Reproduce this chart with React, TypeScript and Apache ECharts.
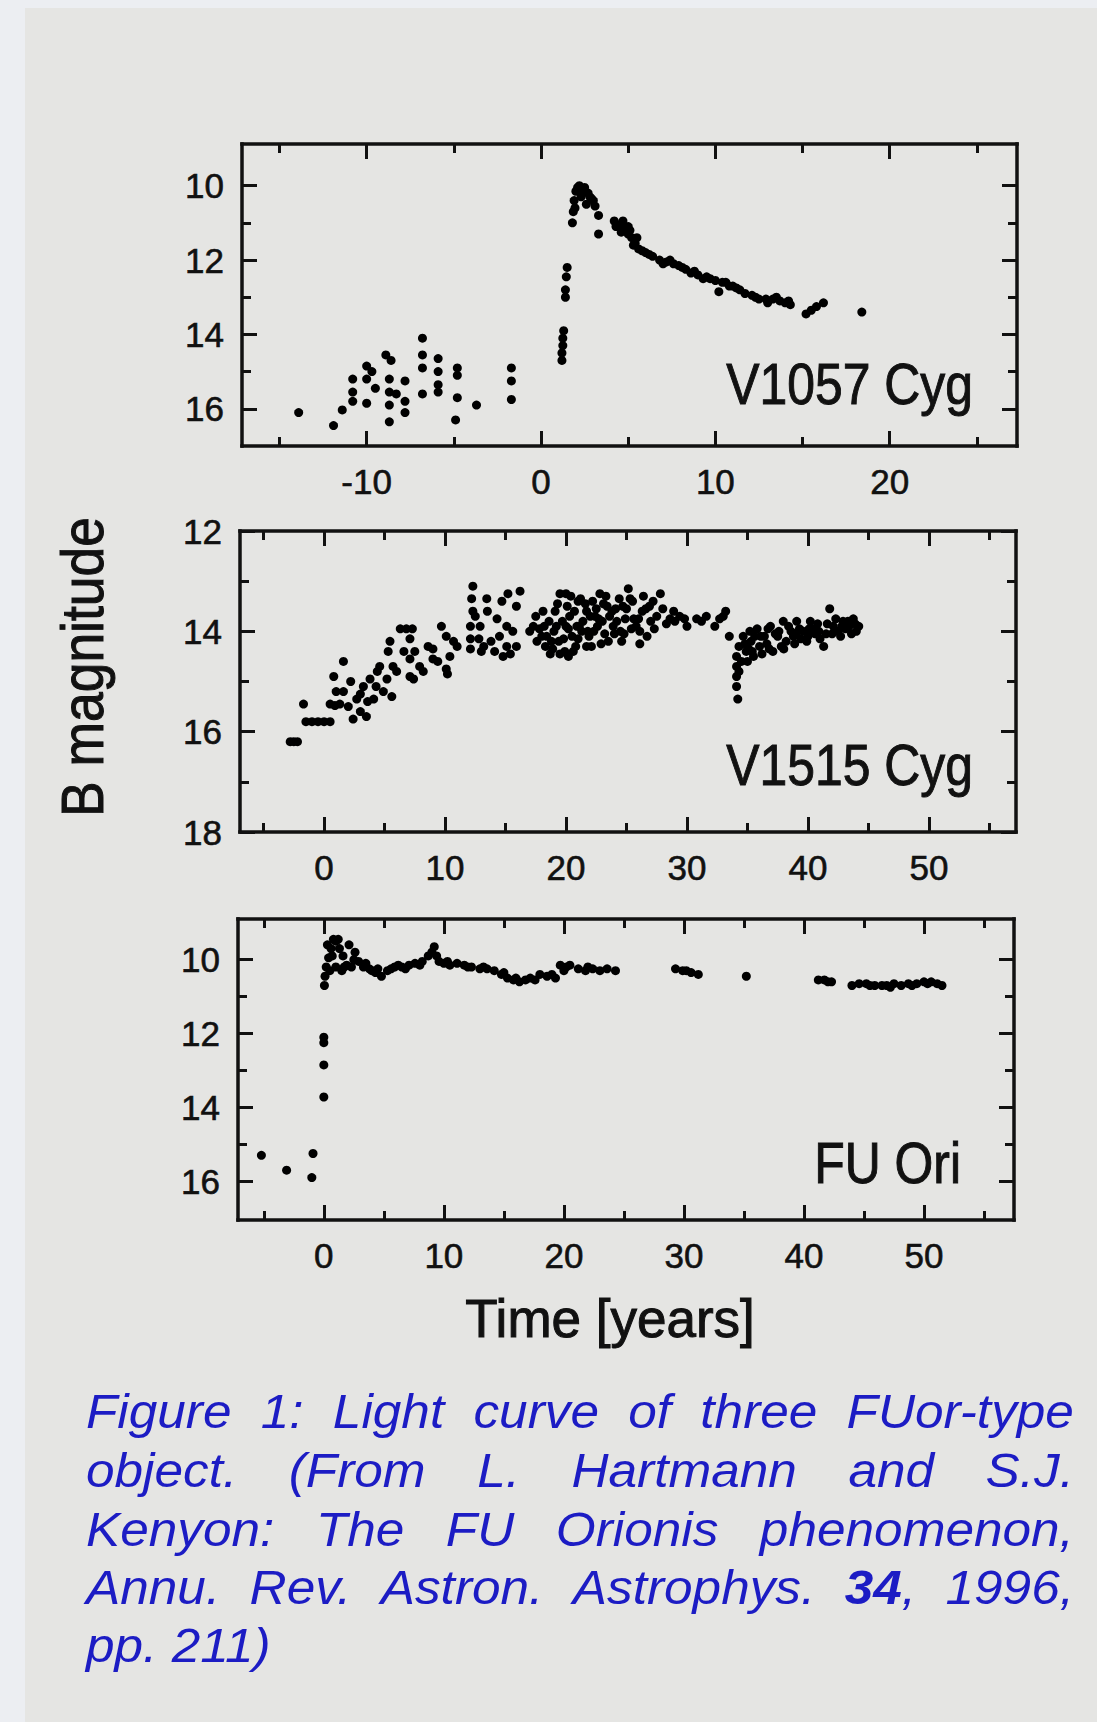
import React, { useEffect, useRef } from 'react';
import * as echarts from 'echarts';

const W = 1097;
const H = 1722;
const FONT = "'Liberation Sans', Arial, Helvetica, sans-serif";
const INK = '#111111';
const DOT = '#000000';
const BLUE = '#1c1cc4';

// ---- data: [time (years), B magnitude] ----
const v1057Cyg: [number, number][] = [
  [-13.9, 16.1], [-11.9, 16.45], [-11.4, 16.03], [-10.8, 15.2], [-10.8, 15.55], [-10.8, 15.8],
  [-10.0, 14.85], [-10.0, 15.2], [-10.0, 15.85], [-9.7, 15.0], [-9.5, 15.45], [-8.9, 14.55],
  [-8.6, 14.7], [-8.7, 15.2], [-8.7, 15.55], [-8.7, 15.9], [-8.7, 16.35], [-8.3, 15.6],
  [-7.8, 15.25], [-7.8, 15.8], [-7.8, 16.1], [-6.8, 14.1], [-6.8, 14.55], [-6.8, 14.9],
  [-6.8, 15.6], [-5.9, 14.65], [-5.9, 15.0], [-5.9, 15.35], [-5.9, 15.55], [-4.8, 14.9],
  [-4.8, 15.1], [-4.8, 15.7], [-4.9, 16.3], [-3.7, 15.9], [-1.7, 14.9], [-1.7, 15.25], [-1.7, 15.75],
  [1.2, 14.7], [1.2, 14.5], [1.25, 14.3], [1.25, 14.1], [1.3, 13.9], [1.4, 13.0], [1.4, 12.8],
  [1.45, 12.45], [1.5, 12.2],
  [1.8, 11.0], [1.85, 10.7], [1.9, 10.4], [2.0, 10.15], [2.2, 10.0], [2.5, 10.05], [2.7, 10.2],
  [2.9, 10.35], [3.1, 10.55], [3.3, 10.8], [3.3, 11.3], [2.3, 10.3], [2.6, 10.5],
  [2.1, 10.05], [2.4, 10.15], [1.95, 10.6], [2.8, 10.3], [3.0, 10.4],
  [4.2, 10.95], [4.5, 11.05], [4.8, 11.15], [5.0, 11.3], [5.2, 11.4], [5.4, 11.55], [5.6, 11.7],
  [5.0, 11.1], [4.6, 11.25], [4.3, 11.1], [4.7, 10.95], [5.1, 11.2], [5.3, 11.6], [5.5, 11.4],
  [5.8, 11.75], [6.0, 11.8], [6.2, 11.85], [6.4, 11.9], [6.8, 12.0], [7.0, 12.1], [7.2, 12.05],
  [7.4, 12.0], [7.6, 12.1], [7.9, 12.15], [8.1, 12.2], [8.3, 12.25], [8.6, 12.35], [8.8, 12.3],
  [9.0, 12.4], [9.3, 12.5], [9.5, 12.45], [9.7, 12.5], [10.0, 12.55], [10.2, 12.85], [10.4, 12.6],
  [10.6, 12.6], [10.8, 12.7], [11.0, 12.7], [11.2, 12.75], [11.4, 12.8], [11.7, 12.9], [12.1, 12.95],
  [12.3, 13.0], [12.5, 13.05], [12.9, 13.05], [13.0, 13.15], [13.3, 13.05], [13.5, 13.0],
  [13.7, 13.1], [14.0, 13.15], [14.2, 13.1], [14.3, 13.2],
  [15.2, 13.45], [15.5, 13.35], [15.8, 13.25], [16.2, 13.15], [18.4, 13.4],
];

const v1515Cyg: [number, number][] = [
  [-2.8, 16.2], [-2.5, 16.2], [-2.2, 16.2], [-1.7, 15.45], [-1.5, 15.8], [-1.0, 15.8], [-0.5, 15.8],
  [0.0, 15.8], [0.5, 15.8], [0.5, 15.45], [0.9, 15.48], [1.3, 15.45], [0.8, 14.9], [1.6, 14.6],
  [1.6, 15.2], [2.4, 15.75], [3.0, 15.6], [3.5, 15.7], [2.7, 15.35], [3.25, 15.1], [3.8, 14.95],
  [4.1, 15.35], [4.4, 14.8], [4.6, 14.7], [4.9, 15.2], [5.2, 14.95], [5.3, 14.4], [5.45, 14.2],
  [5.7, 14.7], [5.6, 15.3], [6.0, 14.8], [6.3, 13.95], [6.8, 13.95], [7.3, 13.95], [7.1, 14.15],
  [7.1, 14.55], [7.1, 14.9], [7.5, 14.4], [7.9, 14.7], [8.2, 14.8], [7.4, 14.95], [9.0, 14.35],
  [9.0, 14.55], [9.7, 13.9], [10.1, 14.1], [10.7, 14.2], [10.4, 14.5], [10.1, 14.75], [10.2, 14.85],
  [1.0, 15.2], [2.0, 15.5], [2.2, 15.0], [3.0, 15.25], [3.6, 15.4], [4.3, 15.1], [6.6, 14.4],
  [8.6, 14.3], [9.4, 14.6], [11.0, 14.3],
  [12.3, 13.1], [12.2, 13.35], [12.3, 13.6], [12.1, 13.9], [12.1, 14.15], [12.1, 14.35],
  [12.9, 13.9], [12.8, 14.15], [13.45, 13.35], [13.5, 13.6], [12.5, 13.7], [13.8, 14.2],
  [15.2, 13.25], [15.9, 13.5], [14.3, 13.75], [14.5, 14.1], [14.1, 14.4], [15.1, 13.9],
  [15.6, 14.0], [15.9, 14.3], [15.1, 14.3], [14.8, 14.5], [13.2, 14.3], [13.0, 14.4],
  [14.7, 13.4], [16.2, 13.2], [15.4, 14.45],
  [17.3, 13.9], [17.8, 13.95], [18.4, 14.1], [18.9, 14.35], [19.5, 13.25], [20.1, 13.5],
  [19.2, 13.9], [19.8, 14.15], [20.6, 14.4], [20.9, 13.9], [21.2, 13.35], [21.7, 13.6],
  [22.3, 14.0], [22.8, 13.25], [23.4, 13.5], [23.9, 13.9], [24.7, 13.5], [25.15, 13.15],
  [25.6, 13.75], [21.7, 14.3], [19.5, 14.45], [18.0, 14.1], [18.6, 13.8], [19.0, 14.0],
  [20.3, 13.7], [20.5, 14.1], [21.0, 14.15], [21.4, 13.8], [22.0, 13.7], [22.5, 13.55],
  [23.0, 13.8], [23.6, 13.7], [24.2, 13.8], [24.4, 13.35], [25.0, 13.55], [26.1, 14.0],
  [26.9, 13.5], [27.8, 13.25], [27.5, 13.7], [28.6, 13.75], [29.4, 13.7], [30.0, 13.9],
  [30.8, 13.75], [31.6, 13.7], [32.3, 13.9], [33.0, 13.7], [33.2, 13.6], [26.4, 13.3],
  [27.0, 13.8], [28.0, 13.55], [26.1, 14.25], [25.4, 13.95], [24.0, 14.05], [22.6, 13.9],
  [20.0, 13.25], [21.0, 13.4], [19.3, 13.45], [33.5, 14.1],
  [17.0, 14.0], [17.6, 14.2], [18.2, 13.9], [18.8, 14.2], [19.1, 13.6], [19.7, 13.8],
  [20.2, 13.95], [20.4, 13.3], [20.8, 14.3], [21.3, 14.0], [21.6, 13.45], [21.9, 14.1],
  [22.2, 13.4], [22.7, 13.75], [23.2, 14.05], [23.3, 13.3], [23.8, 13.6], [24.5, 14.0],
  [24.9, 13.75], [25.3, 13.35], [25.8, 13.9], [26.3, 13.6], [26.7, 14.1], [27.3, 13.95],
  [28.3, 13.85], [29.0, 13.8], [19.9, 14.4], [20.2, 14.5], [18.3, 14.3], [22.9, 14.25], [24.6, 14.2],
  [17.5, 13.7], [18.1, 13.6], [18.7, 14.45], [19.4, 14.2], [20.0, 13.9], [20.7, 13.6],
  [21.1, 13.9], [21.8, 14.0], [22.1, 14.3], [22.4, 13.7], [23.1, 13.45], [23.5, 14.2],
  [24.1, 13.55], [24.8, 14.05], [25.5, 13.4], [26.0, 13.75], [26.6, 13.55], [27.2, 13.4],
  [28.9, 13.6], [31.2, 13.8], [29.8, 13.75], [32.7, 13.75],
  [34.1, 14.5], [34.1, 14.7], [34.1, 14.9], [34.1, 15.1], [34.2, 15.35], [34.3, 14.3],
  [34.65, 14.1], [34.9, 14.4], [35.3, 14.2], [35.8, 13.95], [36.0, 14.3], [36.4, 14.1],
  [36.9, 13.9], [37.1, 14.4], [37.5, 14.1], [37.96, 13.8], [38.2, 14.2], [38.6, 14.0],
  [39.07, 13.8], [39.6, 14.0], [40.2, 13.8], [40.6, 14.05], [41.0, 14.15], [41.3, 14.3],
  [41.8, 13.55], [42.1, 13.9], [42.5, 14.0], [42.9, 13.8], [43.4, 13.9], [43.75, 13.75],
  [44.0, 14.0], [35.0, 14.6], [36.2, 14.45], [39.0, 14.05], [40.0, 14.1],
  [34.5, 14.6], [35.1, 14.35], [35.5, 14.5], [35.6, 14.1], [36.6, 14.25], [37.3, 14.05],
  [37.8, 14.3], [38.4, 13.9], [38.9, 14.25], [39.3, 13.95], [39.9, 14.2], [40.4, 13.95],
  [40.8, 13.85], [41.5, 14.05], [42.3, 13.75], [42.7, 14.1], [43.1, 13.95], [43.9, 13.85],
  [44.2, 13.9], [36.7, 13.95], [35.2, 14.0],
  [34.3, 14.8], [34.8, 14.25], [35.4, 14.4], [36.1, 14.1], [36.8, 14.35], [37.6, 14.0],
  [38.0, 14.35], [38.8, 14.1], [39.4, 14.15], [40.1, 13.95], [40.9, 14.0], [41.6, 13.85],
  [42.0, 14.05], [42.8, 13.9], [43.3, 13.8], [43.6, 14.05],
];

const fuOri: [number, number][] = [
  [-5.2, 15.3], [-3.1, 15.7], [-0.9, 15.25], [-1.0, 15.9], [0.0, 13.72], [0.0, 12.85], [0.0, 12.1],
  [0.0, 12.25], [0.05, 10.7], [0.1, 10.45],
  [0.2, 10.2], [0.4, 9.95], [0.6, 9.7], [0.8, 9.45], [1.0, 9.5], [1.3, 9.7], [1.6, 9.9], [1.9, 10.15],
  [0.5, 10.3], [1.0, 10.2], [1.5, 10.3], [0.3, 9.6], [0.7, 9.9], [1.2, 9.45], [1.7, 10.2],
  [2.1, 9.6], [2.3, 10.2], [2.5, 10.0], [2.6, 9.8], [2.9, 10.05], [3.3, 10.2], [3.5, 10.1],
  [3.8, 10.25], [4.0, 10.3], [4.3, 10.35], [4.5, 10.25], [4.8, 10.45], [5.3, 10.3], [5.6, 10.25],
  [5.9, 10.2], [6.2, 10.15], [6.5, 10.2], [6.8, 10.25], [7.1, 10.15], [7.6, 10.1], [8.0, 10.15],
  [8.2, 10.05], [8.7, 9.9], [9.0, 9.8], [9.2, 9.65], [9.4, 9.9], [9.6, 10.05], [10.0, 10.1],
  [10.3, 10.05], [10.5, 10.15], [11.1, 10.1], [11.7, 10.15], [12.0, 10.2], [12.3, 10.2],
  [13.0, 10.25], [13.3, 10.2], [13.6, 10.25], [14.2, 10.3], [14.8, 10.4], [15.0, 10.35],
  [15.3, 10.5], [15.8, 10.55], [16.0, 10.5], [16.3, 10.6], [16.8, 10.55], [17.2, 10.5],
  [17.6, 10.55], [18.0, 10.4], [18.6, 10.45], [19.0, 10.4], [19.3, 10.5], [19.7, 10.15],
  [20.0, 10.3], [20.2, 10.2], [20.5, 10.15], [21.2, 10.25], [21.8, 10.3], [22.0, 10.2],
  [22.4, 10.25], [23.0, 10.3], [23.6, 10.25], [24.3, 10.3],
  [29.3, 10.25], [29.9, 10.3], [30.2, 10.3], [30.6, 10.35], [31.2, 10.4], [35.2, 10.45],
  [41.2, 10.55], [41.7, 10.55], [42.0, 10.6], [42.3, 10.6], [44.0, 10.7], [44.6, 10.65],
  [45.2, 10.65], [45.5, 10.7], [45.9, 10.7], [46.5, 10.7], [46.9, 10.7], [47.2, 10.75],
  [47.5, 10.65], [48.1, 10.7], [48.7, 10.65], [49.0, 10.7], [49.4, 10.65], [50.0, 10.6],
  [50.3, 10.65], [50.6, 10.6], [51.1, 10.65], [51.5, 10.7],
];

const objectNames = ['V1057 Cyg', 'V1515 Cyg', 'FU Ori'];

// tick values
const xMajorTop = [-10, 0, 10, 20];
const xMinorTop = [-15, -5, 5, 15, 25];
const xMajorLow = [0, 10, 20, 30, 40, 50];
const xMinorLow = [-5, 5, 15, 25, 35, 45, 55];
const yMajorBright = [10, 12, 14, 16];
const yMinorBright = [11, 13, 15];
const yMajorFaint = [12, 14, 16, 18];
const yMinorFaint = [13, 15, 17];

const xTitle = 'Time [years]';
const yTitle = 'B magnitude';

const captionLines = [
  'Figure 1: Light curve of three FUor-type',
  'object. (From L. Hartmann and S.J.',
  'Kenyon: The FU Orionis phenomenon,',
  'Annu. Rev. Astron. Astrophys. **34**, 1996,',
  'pp. 211)',
];

// ---- layout (styles / positions) ----
const panels = [
  { left: 242, top: 144, width: 775, height: 302, xMin: -17.15, xMax: 27.3, yMin: 8.88, yMax: 17.0,
    xMaj: xMajorTop, xMin2: xMinorTop, yMaj: yMajorBright, yMin2: yMinorBright, data: v1057Cyg,
    labelX: 973, labelBase: 404 },
  { left: 240, top: 531, width: 776, height: 301, xMin: -6.95, xMax: 57.2, yMin: 12, yMax: 18,
    xMaj: xMajorLow, xMin2: xMinorLow, yMaj: yMajorFaint, yMin2: yMinorFaint, data: v1515Cyg,
    labelX: 973, labelBase: 785 },
  { left: 238, top: 919, width: 776, height: 301, xMin: -7.15, xMax: 57.5, yMin: 8.9, yMax: 17.05,
    xMaj: xMajorLow, xMin2: xMinorLow, yMaj: yMajorBright, yMin2: yMinorBright, data: fuOri,
    labelX: 961, labelBase: 1183 },
];

function axis(gi: number, pos: string, min: number, max: number, values: number[], major: boolean,
  label: boolean, inverse = false) {
  return {
    type: 'value', gridIndex: gi, position: pos, min, max, inverse,
    axisLine: { show: major, onZero: false, lineStyle: { color: INK, width: 3.5, cap: 'square' } },
    axisTick: { show: true, inside: true, length: major ? 15 : 9, customValues: values,
      lineStyle: { color: INK, width: 3 } },
    axisLabel: label
      ? { show: true, customValues: values, margin: 18, color: INK, fontSize: 35, fontFamily: FONT,
          textBorderColor: INK, textBorderWidth: 0.6 }
      : { show: false },
    splitLine: { show: false },
    minorTick: { show: false },
  };
}

export default function App() {
  const ref = useRef<HTMLDivElement>(null);

  useEffect(() => {
    const el = ref.current;
    if (!el) return;
    const chart = echarts.init(el, undefined, { renderer: 'svg', width: W, height: H });

    const grid: any[] = [];
    const xAxis: any[] = [];
    const yAxis: any[] = [];
    const series: any[] = [];
    const graphic: any[] = [
      { type: 'rect', shape: { x: 0, y: 0, width: 25, height: H }, style: { fill: '#eceef2' }, silent: true },
      { type: 'rect', shape: { x: 0, y: 0, width: W, height: 8 }, style: { fill: '#eceef2' }, silent: true },
    ];

    panels.forEach((p, gi) => {
      grid.push({ left: p.left, top: p.top, width: p.width, height: p.height, containLabel: false });
      xAxis.push(axis(gi, 'bottom', p.xMin, p.xMax, p.xMaj, true, true));
      xAxis.push(axis(gi, 'bottom', p.xMin, p.xMax, p.xMin2, false, false));
      xAxis.push(axis(gi, 'top', p.xMin, p.xMax, p.xMaj, true, false));
      xAxis.push(axis(gi, 'top', p.xMin, p.xMax, p.xMin2, false, false));
      yAxis.push(axis(gi, 'left', p.yMin, p.yMax, p.yMaj, true, true, true));
      yAxis.push(axis(gi, 'left', p.yMin, p.yMax, p.yMin2, false, false, true));
      yAxis.push(axis(gi, 'right', p.yMin, p.yMax, p.yMaj, true, false, true));
      yAxis.push(axis(gi, 'right', p.yMin, p.yMax, p.yMin2, false, false, true));
      series.push({
        type: 'scatter', name: objectNames[gi], xAxisIndex: gi * 4, yAxisIndex: gi * 4,
        data: p.data, symbol: 'circle', symbolSize: 9, itemStyle: { color: DOT, opacity: 1 }, z: 3,
      });
      graphic.push({
        type: 'text', x: p.labelX, y: p.labelBase - 0.3465 * 58, scaleX: 0.86, silent: true,
        style: { text: objectNames[gi], fontSize: 58, fontFamily: FONT, fill: INK,
          stroke: INK, lineWidth: 1,
          align: 'right', verticalAlign: 'middle', textAlign: 'right', textVerticalAlign: 'middle' },
      });
    });

    // axis titles
    graphic.push({
      type: 'text', x: 82, y: 667, rotation: Math.PI / 2, scaleX: 0.89, silent: true,
      style: { text: yTitle, fontSize: 60, fontFamily: FONT, fill: INK, stroke: INK, lineWidth: 1,
        align: 'center', verticalAlign: 'middle', textAlign: 'center', textVerticalAlign: 'middle' },
    });
    graphic.push({
      type: 'text', x: 610, y: 1337 - 0.3465 * 53, silent: true,
      style: { text: xTitle, fontSize: 53, fontFamily: FONT, fill: INK, stroke: INK, lineWidth: 1,
        align: 'center', verticalAlign: 'middle', textAlign: 'center', textVerticalAlign: 'middle' },
    });

    // caption (justified, italic)
    const CAP_SIZE = 48;
    const CAP_SX = 1.07;
    const capLeft = 86;
    const capRight = 1074;
    const capBase = [1428, 1487, 1546, 1604, 1662];
    const canvas = document.createElement('canvas');
    const ctx = canvas.getContext('2d')!;
    const measure = (t: string, bold: boolean) => {
      ctx.font = `italic ${bold ? 'bold ' : ''}${CAP_SIZE}px ${FONT}`;
      return ctx.measureText(t).width * CAP_SX;
    };
    captionLines.forEach((line, li) => {
      const words = line.split(' ').map((w) => {
        const segs: { t: string; b: boolean }[] = [];
        w.split('**').forEach((part, i) => { if (part) segs.push({ t: part, b: i % 2 === 1 }); });
        const widths = segs.map((s) => measure(s.t, s.b));
        return { segs, widths, width: widths.reduce((a, b) => a + b, 0) };
      });
      const total = words.reduce((a, w) => a + w.width, 0);
      const justify = li < captionLines.length - 1 && words.length > 1;
      const gap = justify ? (capRight - capLeft - total) / (words.length - 1) : measure(' ', false);
      let x = capLeft;
      const y = capBase[li] - 0.3465 * CAP_SIZE;
      words.forEach((w) => {
        let sx = x;
        w.segs.forEach((s, si) => {
          graphic.push({
            type: 'text', x: sx, y, scaleX: CAP_SX, silent: true,
            style: { text: s.t, fontSize: CAP_SIZE, fontFamily: FONT, fontStyle: 'italic',
              fontWeight: s.b ? 'bold' : 'normal', fill: BLUE,
              align: 'left', verticalAlign: 'middle', textAlign: 'left', textVerticalAlign: 'middle' },
          });
          sx += w.widths[si];
        });
        x += w.width + gap;
      });
    });

    chart.setOption({
      animation: false,
      backgroundColor: '#e5e5e3',
      grid,
      xAxis,
      yAxis,
      series,
      graphic: { elements: graphic },
    });

    return () => chart.dispose();
  }, []);

  return <div ref={ref} style={{ position: 'absolute', left: 0, top: 0, width: W, height: H }} />;
}
